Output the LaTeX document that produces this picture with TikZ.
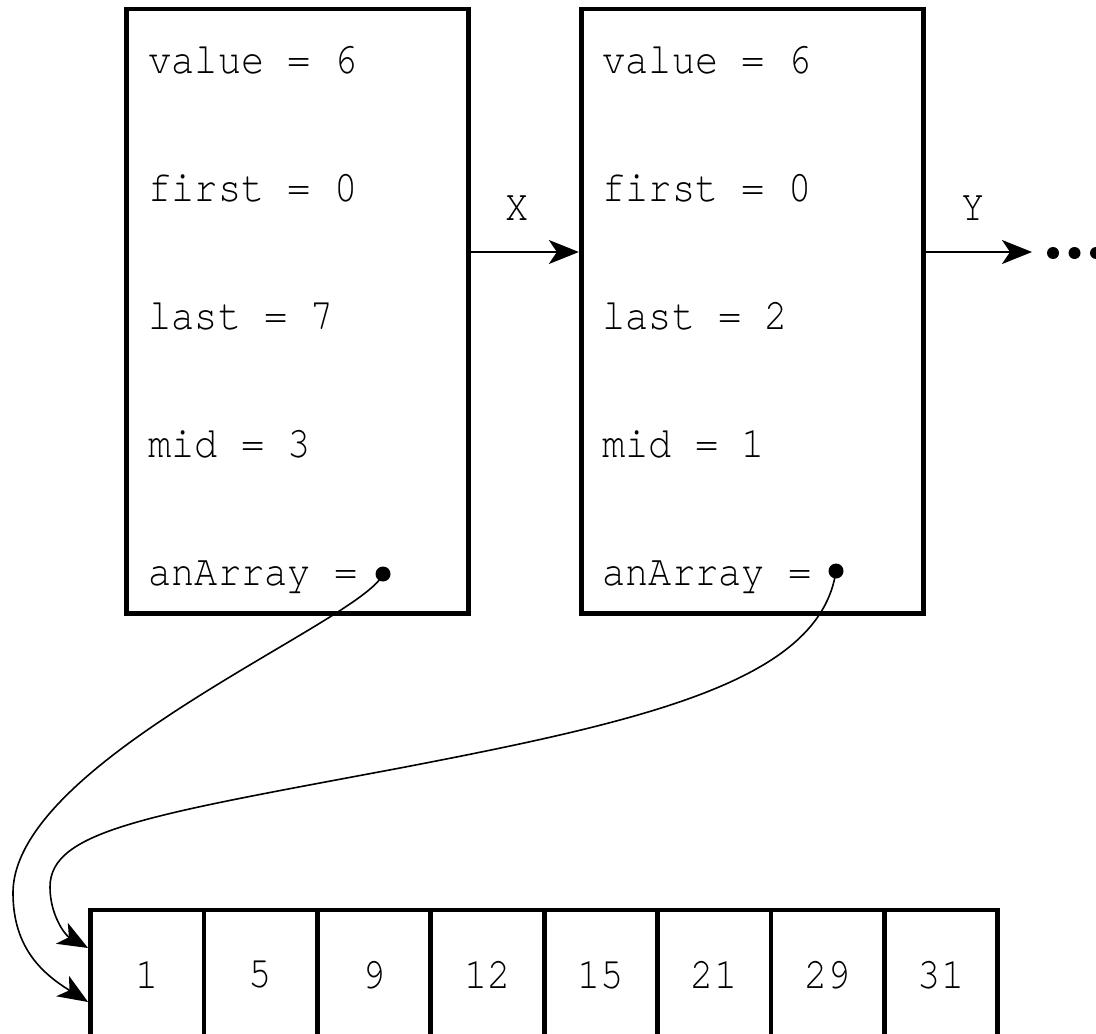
\documentclass[tikz,border=0pt]{standalone}
\usepackage{fontspec}
\newfontfamily\codefont[Ligatures=NoCommon, FakeStretch=0.88]{TeX Gyre Cursor}
\usetikzlibrary{arrows.meta, calc}

\tikzset{
	frame/.style	={draw, line width=2.4pt, minimum width=171pt, minimum height=302.25pt, inner sep=0pt},
	field/.style	={anchor=base west, inner sep=0pt, font=\codefont\fontsize{22}{26}\selectfont},
	tag/.style		={inner sep=0pt, font=\codefont\fontsize{22}{26}\selectfont},
	dot/.style		={circle, fill, inner sep=0pt, minimum size=7.5pt},
	cell/.style		={draw, line width=2.4pt, minimum width=56.7pt, minimum height=65pt, inner sep=0pt, font=\codefont\fontsize{22}{26}\selectfont},
	ptr/.style		={-{Stealth[length=15pt, width=12pt, inset=4pt]}, line width=1pt},
	ref/.style		={-{Stealth[length=15pt, width=12pt, inset=4pt]}, line width=0.8pt},
}

\begin{document}
\begin{tikzpicture}[x=0.5pt, y=-0.5pt]
	\useasboundingbox (0,0) rectangle (1096,1033);

	\node[frame] 	(A) at (297.5,311.25) 	{};
	\node[frame] 	(B) at (752.25,311.25) 	{};

	\node[field] 	(A1) at (148,73) 		{value = 6};
	\node[field] 	(A2) at (148,201) 		{first = 0};
	\node[field] 	(A3) at (148,329) 		{last = 7};
	\node[field] 	(A4) at (148,457) 		{mid = 3};
	\node[field] 	(A5) at (148,585) 		{anArray =};
	\node[dot] 		(Ap) at (383,574) 		{};

	\node[field] 	(B1) at (602,73) 		{value = 6};
	\node[field] 	(B2) at (602,201) 		{first = 0};
	\node[field] 	(B3) at (602,329) 		{last = 2};
	\node[field] 	(B4) at (602,457) 		{mid = 1};
	\node[field] 	(B5) at (602,585) 		{anArray =};
	\node[dot] 		(Bp) at (836,571) 		{};

	\foreach \v [count=\i] in {1,5,9,12,15,21,29,31}
		\node[cell] (C\i) at ({90.5+113.4*(\i-0.5)},975) {\v};

	\coordinate (row) at (0,252);
	\coordinate (more) at (1032,252);

	\draw[ptr] (A.east |- row) -- (B.west |- row)
		node[tag, midway, yshift=22pt, xshift=-4pt] {X};
	\draw[ptr] (B.east |- row) -- (more)
		node[tag, midway, yshift=22pt, xshift=-3pt] {Y};
	\foreach \k in {0,1,2}
		\fill (1053+21.5*\k,253) circle [radius=3pt];

	\draw[ref] (Ap.center) .. controls (365,620) and (13,760) .. (13,893)
		.. controls (13,950) and (45,975) .. ([yshift=-13.5pt]C1.west);
	\draw[ref] (Bp.center) .. controls (820,680) and (650,720) .. (400,768)
		.. controls (150,815) and (50,830) .. (50,887)
		.. controls (50,915) and (65,935) .. ([yshift=13.5pt]C1.west);
\end{tikzpicture}
\end{document}
